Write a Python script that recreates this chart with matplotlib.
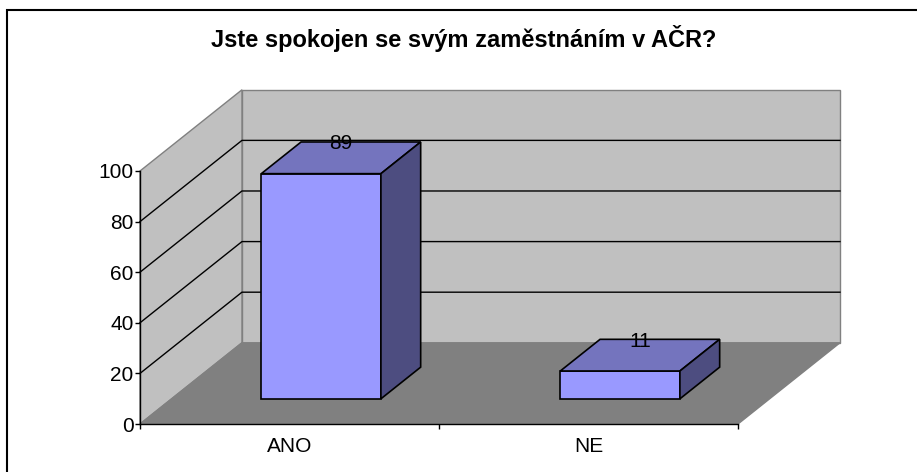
"""Excel-style 3D column chart: job satisfaction in AČR."""

import matplotlib.pyplot as plt
from matplotlib.patches import Polygon, Rectangle

plt.rcParams["font.family"] = ["Liberation Sans", "DejaVu Sans"]

TITLE = "Jste spokojen se svým zaměstnáním v AČR?"
CATEGORIES = ["ANO", "NE"]
VALUES = [89, 11]
YTICKS = [0, 20, 40, 60, 80, 100]

# oblique projection: one unit of depth shifts by DX categories and DY value units
DX = 0.341
DY = 32.1
BAR_HALF = 0.2
BAR_FRONT = 0.31
BAR_BACK = 0.70

WALL = "#C0C0C0"
FLOOR = "#808080"
EDGE = "#808080"
BAR_FRONT_C = "#9999FF"
BAR_TOP_C = "#7474BE"
BAR_SIDE_C = "#4D4D80"


def proj(x, v, d):
    return (x + d * DX, v + d * DY)


def main():
    fig = plt.figure(figsize=(9.17, 4.72), dpi=100)
    fig.patches.append(Rectangle((7 / 917, -0.1), 1.2, 1 - 10 / 472 + 0.1,
                                 transform=fig.transFigure, fill=False,
                                 edgecolor="black", lw=1.5))
    fig.text(464 / 917, 1 - 47 / 472, TITLE, ha="center", va="baseline",
             fontsize=17, fontweight="bold")

    ax = fig.add_axes([140 / 917, 48 / 472, 598 / 917, 253 / 472])
    ax.set_facecolor("none")
    n = len(CATEGORIES)
    top = YTICKS[-1]
    ax.set_xlim(0, n)
    ax.set_ylim(0, top)

    def poly(pts, fc, ec, z, lw=1.0):
        ax.add_patch(Polygon(pts, closed=True, facecolor=fc, edgecolor=ec,
                             lw=lw, zorder=z, clip_on=False))

    # walls and floor
    poly([proj(0, 0, 1), proj(n, 0, 1), proj(n, top, 1), proj(0, top, 1)],
         WALL, EDGE, 0)
    poly([proj(0, 0, 0), proj(0, 0, 1), proj(0, top, 1), proj(0, top, 0)],
         WALL, EDGE, 0)
    for v in YTICKS[1:-1]:
        xs, ys = zip(proj(0, v, 0), proj(0, v, 1), proj(n, v, 1))
        ax.plot(xs, ys, color="black", lw=1.0, zorder=1, clip_on=False)
    poly([proj(0, 0, 0), proj(n, 0, 0), proj(n, 0, 1), proj(0, 0, 1)],
         FLOOR, EDGE, 2)

    # bars
    for i, val in enumerate(VALUES):
        x0 = i + 0.5 - BAR_HALF
        x1 = i + 0.5 + BAR_HALF
        f, b = BAR_FRONT, BAR_BACK
        poly([proj(x0, 0, f), proj(x1, 0, f), proj(x1, val, f), proj(x0, val, f)],
             BAR_FRONT_C, "black", 3, 1.2)
        poly([proj(x0, val, f), proj(x1, val, f), proj(x1, val, b), proj(x0, val, b)],
             BAR_TOP_C, "black", 3, 1.2)
        poly([proj(x1, 0, f), proj(x1, 0, b), proj(x1, val, b), proj(x1, val, f)],
             BAR_SIDE_C, "black", 3, 1.2)
        lx, _ = proj(i + 0.5, val, (f + b) / 2)
        _, ly = proj(i + 0.5, val, b)
        ax.annotate(str(val), (lx, ly), xytext=(0, -2),
                    textcoords="offset pixels", ha="center", va="center",
                    fontsize=15, zorder=5, annotation_clip=False)

    for side in ("top", "right"):
        ax.spines[side].set_visible(False)
    for side in ("left", "bottom"):
        ax.spines[side].set_color("black")
        ax.spines[side].set_linewidth(1.0)
        ax.spines[side].set_zorder(4)

    ax.set_yticks(YTICKS)
    ax.tick_params(axis="y", length=3.6, width=1, pad=1, labelsize=15)
    ax.set_xticks(range(n + 1))
    ax.set_xticklabels([])
    ax.set_xticks([i + 0.5 for i in range(n)], minor=True)
    ax.set_xticklabels(CATEGORIES, minor=True)
    ax.tick_params(axis="x", which="major", length=3.6, width=1)
    ax.tick_params(axis="x", which="minor", length=0, pad=9, labelsize=15)

    fig.savefig("out.png", dpi=100)


if __name__ == "__main__":
    main()
